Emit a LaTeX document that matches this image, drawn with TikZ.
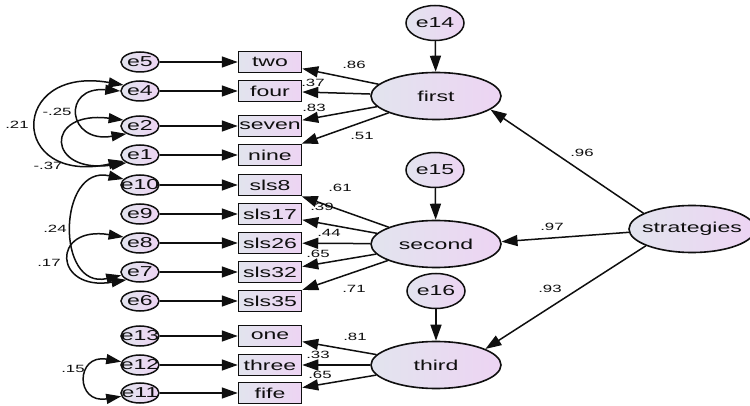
\documentclass[tikz,border=0pt]{standalone}
\usepackage{fontspec}
\setmainfont{Liberation Sans}[FakeStretch=1.6]
\usetikzlibrary{arrows.meta,shapes.geometric,shadings}
\definecolor{gA}{RGB}{226,228,238}
\definecolor{gB}{RGB}{237,212,243}
\definecolor{ink}{RGB}{15,15,15}
\newcommand{\zw}[1]{\makebox[0pt]{#1}}
\begin{document}
\begin{tikzpicture}[x=1pt,y=-1pt,
  base/.style={draw=ink,inner sep=0pt,left color=gA,right color=gB,text=ink,font=\fontsize{14.4}{16}\selectfont},
  lat/.style={base,ellipse,line width=1.6pt,minimum width=130pt,minimum height=47pt},
  dis/.style={base,ellipse,line width=1.5pt,minimum width=58pt,minimum height=35pt},
  err/.style={base,ellipse,line width=1.5pt,minimum width=38pt,minimum height=20pt},
  obs/.style={base,rectangle,line width=1.5pt,minimum width=63pt,minimum height=21pt},
  path/.style={draw=ink,line width=1.5pt,-{Triangle[length=16pt,width=11pt]}},
  cov/.style={draw=ink,line width=1.5pt,{Triangle[length=15pt,width=10pt]}-{Triangle[length=15pt,width=10pt]}},
  lab/.style={inner sep=0pt,text=ink,font=\fontsize{10.5}{12}\selectfont}]
\useasboundingbox (0,0) rectangle (750,406);
\fill[white] (0,0) rectangle (750,406);
% latent factors and disturbances
\node[dis] (e14) at (435,23) {\zw{e14}};
\node[lat] (first) at (436,96) {\zw{first}};
\node[dis] (e15) at (435,170) {\zw{e15}};
\node[lat] (second) at (436,244) {\zw{second}};
\node[dis] (e16) at (436,291) {\zw{e16}};
\node[lat] (third) at (436,365) {\zw{third}};
\node[lat,minimum width=126pt] (strat) at (692,229) {\zw{strategies}};
% indicators and errors
\foreach \e/\b/\y in {e5/two/62,e4/four/91,e2/seven/126,e1/nine/155,
  e10/sls8/185,e9/sls17/214,e8/sls26/243,e7/sls32/272,e6/sls35/301,
  e13/one/336,e12/three/365,e11/fife/393}{
  \node[err] (\e) at (140,\y) {\zw{\e}};
  \node[obs] (\b) at (270,\y) {\b};
  \draw[path] (\e) -- (\b);
}
% loadings
\foreach \b in {two,four,seven,nine} \draw[path] (first) -- (\b);
\foreach \b in {sls8,sls17,sls26,sls32,sls35} \draw[path] (second) -- (\b);
\foreach \b in {one,three,fife} \draw[path] (third) -- (\b);
% structural paths
\draw[path] (strat.162) -- (first.-14);
\draw[path] (strat.183) -- (second.2);
\draw[path] (strat.200) -- (third.18);
\draw[path] (e14) -- (first);
\draw[path] (e15) -- (second);
\draw[path] (e16) -- (third);
% covariances
\draw[cov] (e4.160) .. controls +(-115,-20) and +(-115,25) .. (e1.200);
\draw[cov] (e4.west) .. controls +(-59,-5) and +(-59,10) .. (e2.210);
\draw[cov] (e2.160) .. controls +(-80,-10) and +(-80,12) .. (e1.210);
\draw[cov] (e10.160) .. controls +(-66,-15) and +(-66,15) .. (e7.190);
\draw[cov] (e8.160) .. controls +(-73,-12) and +(-73,12) .. (e7.210);
\draw[cov] (e12.170) .. controls +(-46,-8) and +(-46,8) .. (e11.190);
% labels
\node[lab] (l86) at (354,65) {.86};
\node[lab] (l37) at (313,83) {.37};
\node[lab] (l83) at (314,108) {.83};
\node[lab] (l51) at (362,136) {.51};
\node[lab] (l61) at (340,188) {.61};
\node[lab] (l39) at (322,207) {.39};
\node[lab] (l44) at (329,233) {.44};
\node[lab] (l65a) at (318,254) {.65};
\node[lab] (l71) at (354,289) {.71};
\node[lab] (l81) at (355,337) {.81};
\node[lab] (l33) at (318,355) {.33};
\node[lab] (l65b) at (320,375) {.65};
\node[lab] (l96) at (582,153) {.96};
\node[lab] (l97) at (552,227) {.97};
\node[lab] (l93) at (550,289) {.93};
\node[lab] (l21) at (17,125) {.21};
\node[lab] (l25) at (57,112) {-.25};
\node[lab] (l37b) at (48,166) {-.37};
\node[lab] (l24) at (55,229) {.24};
\node[lab] (l17) at (49,263) {.17};
\node[lab] (l15) at (73,369) {.15};
\end{tikzpicture}
\end{document}
